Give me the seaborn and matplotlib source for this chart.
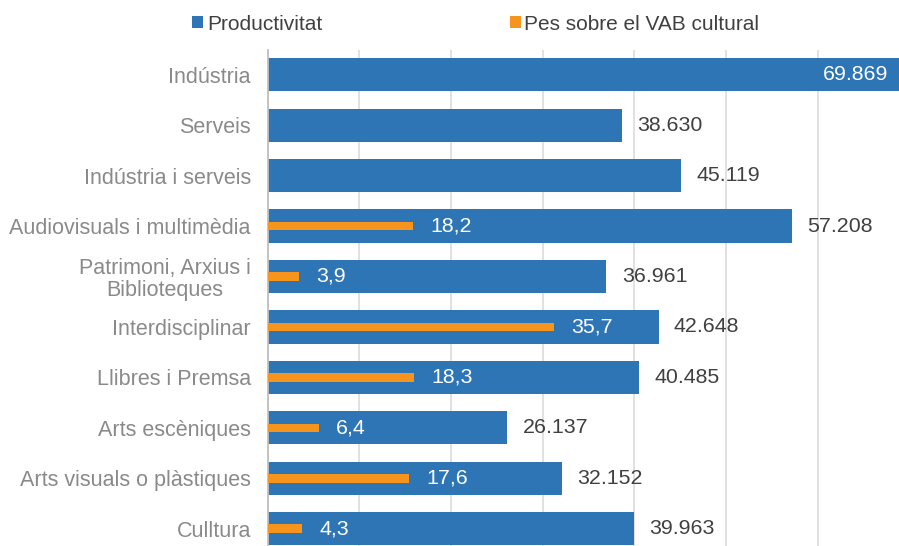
import numpy as np
import pandas as pd
import matplotlib
matplotlib.use("Agg")
import matplotlib.pyplot as plt
from matplotlib.patches import Patch
import seaborn as sns

categories = ["Indústria", "Serveis", "Indústria i serveis", "Audiovisuals i multimèdia",
              "Patrimoni, Arxius i\nBiblioteques", "Interdisciplinar", "Llibres i Premsa",
              "Arts escèniques", "Arts visuals o plàstiques", "Culltura"]
productivitat = [69869, 38630, 45119, 57208, 36961, 42648, 40485, 26137, 32152, 39963]
prod_labels = ["69.869", "38.630", "45.119", "57.208", "36.961", "42.648", "40.485", "26.137", "32.152", "39.963"]
pes_vab = [np.nan, np.nan, np.nan, 18.2, 3.9, 35.7, 18.3, 6.4, 17.6, 4.3]
pes_labels = ["", "", "", "18,2", "3,9", "35,7", "18,3", "6,4", "17,6", "4,3"]
series_names = ["Productivitat", "Pes sobre el VAB cultural"]

BLUE = "#2E75B6"
ORANGE = "#F7941D"

sns.set_theme(style="white")
plt.rcParams["font.family"] = ["Liberation Sans", "DejaVu Sans"]

df = pd.DataFrame({"cat": categories, "prod": productivitat, "pes": pes_vab})

fig = plt.figure(figsize=(8.99, 5.46), dpi=100)
W, H = 899, 546
ax = fig.add_axes([267.5 / W, 0, 1 - 267.5 / W, 1 - 49.5 / H])

sns.barplot(data=df, y="cat", x="prod", order=categories, orient="h", ax=ax,
            color=BLUE, saturation=1, width=0.66, edgecolor="none", errorbar=None)

ax2 = ax.twiny()
sns.barplot(data=df, y="cat", x="pes", order=categories, orient="h", ax=ax2,
            color=ORANGE, saturation=1, width=0.17, edgecolor="none", errorbar=None)

ax.set_xticks(np.arange(0, 80001, 10000))
ax.set_xlim(0, 631.5 / 91.7 * 10000)
ax2.set_xticks([])
ax2.set_xlim(0, 631.5 / 8.02)
ylim = (9 + (546 - 528.7) / 50.44, -0.5)
ax.set_ylim(*ylim)
ax2.set_ylim(*ylim)

ax.xaxis.grid(True, color="#d9d9d9", linewidth=1.1)
ax.set_axisbelow(True)
ax.tick_params(axis="x", length=0, labelbottom=False)
ax.tick_params(axis="y", length=0, pad=12, labelsize=15.5, labelcolor="#8a8a8a")
for lab in ax.get_yticklabels():
    lab.set_multialignment("center")
    lab.set_linespacing(1.05)
ax.set_xlabel("")
ax.set_ylabel("")
for s in ["top", "right", "bottom"]:
    ax.spines[s].set_visible(False)
ax.spines["left"].set_color("#bfbfbf")
ax.spines["left"].set_linewidth(1.3)

ax2.set_xlabel("")
ax2.set_ylabel("")
ax2.tick_params(length=0, labeltop=False)
for s in ax2.spines.values():
    s.set_visible(False)

# value labels
xmax = ax.get_xlim()[1]
for i, (v, lab) in enumerate(zip(productivitat, prod_labels)):
    if v > xmax:
        ax.annotate(lab, xy=(v, i), xytext=(-14.4, 0), textcoords="offset points",
                    ha="right", va="center", color="white", fontsize=15.4,
                    annotation_clip=False)
    else:
        ax.annotate(lab, xy=(v, i), xytext=(11, 0), textcoords="offset points",
                    ha="left", va="center", color="#404040", fontsize=15.4)
for i, (v, lab) in enumerate(zip(pes_vab, pes_labels)):
    if lab:
        ax2.annotate(lab, xy=(v, i), xytext=(12.5, 0), textcoords="offset points",
                     ha="left", va="center", color="white", fontsize=15.4)

handles = [Patch(facecolor=BLUE, edgecolor="none"), Patch(facecolor=ORANGE, edgecolor="none")]
fig.legend(handles, series_names, loc="center left", bbox_to_anchor=(192 / W, 1 - 24 / H),
           ncol=2, frameon=False, fontsize=15, borderpad=0, borderaxespad=0,
           handlelength=0.53, handleheight=0.53, handletextpad=0.18, columnspacing=9.0,
           labelcolor="#404040")

fig.savefig("out.png", dpi=100)
